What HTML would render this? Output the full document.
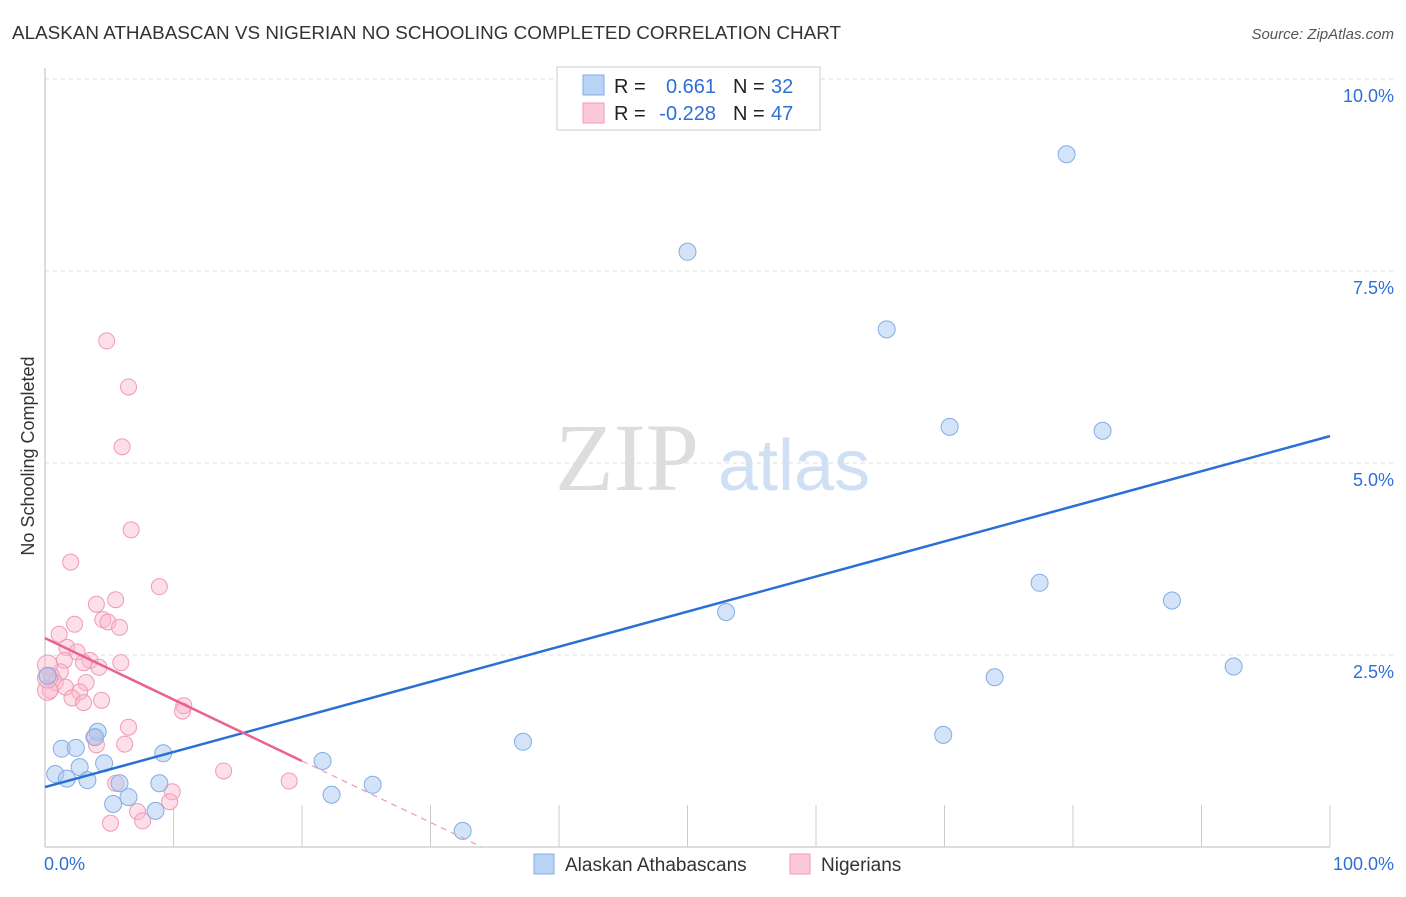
<!DOCTYPE html>
<html><head><meta charset="utf-8"><style>
body{margin:0;background:#fff;font-family:"Liberation Sans",sans-serif}
</style></head><body>
<svg id="c" width="1406" height="892" xmlns="http://www.w3.org/2000/svg" font-family="Liberation Sans, sans-serif">
<text x="12" y="39" font-size="18" fill="#333" textLength="829" lengthAdjust="spacingAndGlyphs">ALASKAN ATHABASCAN VS NIGERIAN NO SCHOOLING COMPLETED CORRELATION CHART</text>
<text x="1394" y="39" font-size="15" fill="#555" font-style="italic" text-anchor="end">Source: ZipAtlas.com</text>
<text x="34" y="456" font-size="18" fill="#333" text-anchor="middle" transform="rotate(-90 34 456)">No Schooling Completed</text>
<text x="555" y="490" font-size="96" fill="#ddd" font-family="Liberation Serif, serif">ZIP</text>
<text x="718" y="490" font-size="72" fill="#cfe0f5">atlas</text>
<g id="grid"></g><g id="marks"></g>
<g>
<rect x="557" y="67" width="263" height="63" fill="#fff" stroke="#ccc"/>
<rect x="583" y="75" width="21" height="20" fill="#b9d3f5" stroke="#7faee8"/>
<rect x="583" y="103" width="21" height="20" fill="#fcc9d8" stroke="#f09ab5"/>
<text x="614" y="93" font-size="20" fill="#222">R = </text><text x="716" y="93" font-size="20" fill="#2e6fd6" text-anchor="end">0.661</text>
<text x="733" y="93" font-size="20" fill="#222">N = </text><text x="771" y="93" font-size="20" fill="#2e6fd6">32</text>
<text x="614" y="120" font-size="20" fill="#222">R = </text><text x="716" y="120" font-size="20" fill="#2e6fd6" text-anchor="end">-0.228</text>
<text x="733" y="120" font-size="20" fill="#222">N = </text><text x="771" y="120" font-size="20" fill="#2e6fd6">47</text>
</g>
<g>
<rect x="534" y="854" width="20" height="20" fill="#b9d3f5" stroke="#7faee8"/>
<text x="565" y="871" font-size="19" fill="#333">Alaskan Athabascans</text>
<rect x="790" y="854" width="20" height="20" fill="#fcc9d8" stroke="#f09ab5"/>
<text x="821" y="871" font-size="19" fill="#333">Nigerians</text>
</g>
<text x="44" y="870" font-size="18" fill="#2e6fd6">0.0%</text>
<text x="1394" y="870" font-size="18" fill="#2e6fd6" text-anchor="end">100.0%</text>
</svg>
<script>
const yTicks=[2.5,5.0,7.5,10.0];
const blueX=[79.5,50.0,65.5,70.4,82.3,77.4,87.7,53.0,92.5,73.9,69.9,37.2,21.6,22.3,25.5,32.5,9.2,8.9,8.6,4.1,3.9,1.3,2.4,0.8,1.7,2.7,3.3,4.6,5.8,5.3,6.5,0.2];
const blueY=[9.02,7.75,6.74,5.47,5.42,3.44,3.21,3.06,2.35,2.21,1.46,1.37,1.12,0.68,0.81,0.21,1.22,0.83,0.47,1.50,1.43,1.28,1.29,0.95,0.89,1.04,0.87,1.09,0.83,0.56,0.65,2.23];
const pinkX=[4.8,6.5,6.0,6.7,2.0,8.9,5.5,4.0,4.5,4.9,5.8,2.3,1.1,1.7,2.5,5.9,3.5,3.0,4.2,1.5,1.2,0.5,0.8,3.2,1.6,2.7,0.4,2.1,4.4,3.0,10.8,10.7,6.5,3.8,4.0,6.2,13.9,19.0,5.5,9.9,9.7,7.2,5.1,7.6,0.2,0.2,0.2];
const pinkY=[6.59,5.99,5.21,4.13,3.71,3.39,3.22,3.16,2.96,2.93,2.86,2.90,2.77,2.60,2.54,2.40,2.43,2.40,2.34,2.43,2.28,2.23,2.14,2.14,2.08,2.02,2.04,1.94,1.91,1.88,1.84,1.77,1.56,1.43,1.33,1.34,0.99,0.86,0.83,0.72,0.59,0.46,0.31,0.34,2.04,2.37,2.2];
const blueTrend=[0.78,5.35];
const pinkTrend=[2.72,-0.08];
const X=v=>45+v*12.85, Y=v=>847-76.8*v;
const NS='http://www.w3.org/2000/svg';
function mk(p,t,a){const e=document.createElementNS(NS,t);for(const k in a)e.setAttribute(k,a[k]);p.appendChild(e);return e;}
const g=document.getElementById('grid'), m=document.getElementById('marks');
for(const t of yTicks){
 const l=mk(g,'line',{x1:45,x2:1394,y1:Y(t),y2:Y(t),stroke:'#ddd','stroke-dasharray':'4 4'});
 
 
 const tx=mk(g,'text',{x:1394,y:Y(t)+23,'font-size':18,fill:'#2e6fd6','text-anchor':'end'});tx.textContent=t.toFixed(1)+'%';
 
 
}
const ax=mk(g,'line',{x1:45,x2:1330,y1:847,y2:847,stroke:'#bbb'});


const ay=mk(g,'line',{x1:45,x2:45,y1:68,y2:847,stroke:'#bbb'});


for(let i=1;i<=10;i++){const t=mk(g,'line',{x1:X(i*10),x2:X(i*10),y1:805,y2:847,stroke:'#ccc'});
 
 }
for(let i=0;i<pinkX.length;i++){const c=mk(m,'circle',{cx:X(pinkX[i]),cy:Y(pinkY[i]),r:(i>=44?10:8),fill:'rgba(250,185,205,0.45)',stroke:'#f09ab5','stroke-width':1});
 
 }
for(let i=0;i<blueX.length;i++){const c=mk(m,'circle',{cx:X(blueX[i]),cy:Y(blueY[i]),r:8.5,fill:'rgba(170,200,240,0.5)',stroke:'#7faee8','stroke-width':1});
 
 }
const bt=mk(m,'line',{x1:X(0),y1:Y(blueTrend[0]),x2:X(100),y2:Y(blueTrend[1]),stroke:'#2a6fd6','stroke-width':2.5});


const pe=20, pz=-pinkTrend[0]/pinkTrend[1];
const pt=mk(m,'line',{x1:X(0),y1:Y(pinkTrend[0]),x2:X(pe),y2:Y(pinkTrend[0]+pinkTrend[1]*pe),stroke:'#e8638f','stroke-width':2.5});


const pd=mk(m,'line',{x1:X(pe),y1:Y(pinkTrend[0]+pinkTrend[1]*pe),x2:X(pz),y2:Y(0),stroke:'#f09ab5','stroke-width':1.2,'stroke-dasharray':'6 5'});


</script>
</body></html>
